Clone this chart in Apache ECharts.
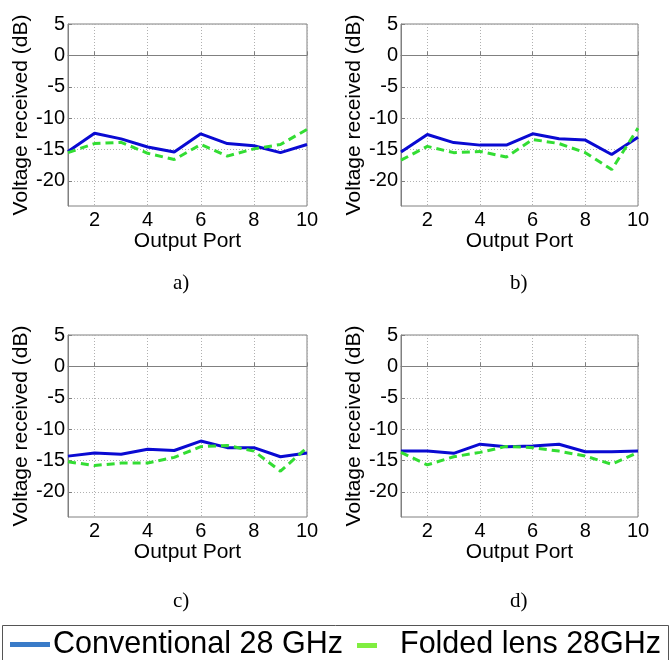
<!DOCTYPE html>
<html>
<head>
<meta charset="utf-8">
<script src="https://cdn.jsdelivr.net/npm/echarts@6/dist/echarts.min.js"></script>
<style>
html,body{margin:0;padding:0;background:#fff;}
#chart{width:670px;height:660px;}
</style>
</head>
<body>
<div id="chart"></div>
<script>
// ---- data ----
const ports = [1, 2, 3, 4, 5, 6, 7, 8, 9, 10];
const xTicks = [2, 4, 6, 8, 10];
const yTicks = [-20, -15, -10, -5, 0, 5];
const seriesNames = ['Conventional 28 GHz', 'Folded lens 28GHz'];
const captions = ['a)', 'b)', 'c)', 'd)'];

const convA = [-15.3, -12.4, -13.3, -14.6, -15.4, -12.5, -14.05, -14.4, -15.5, -14.2];
const foldA = [-15.5, -14.05, -13.85, -15.6, -16.6, -14.2, -16.05, -14.9, -14.2, -11.8];
const convB = [-15.4, -12.6, -13.9, -14.3, -14.3, -12.5, -13.3, -13.5, -15.8, -13.05];
const foldB = [-16.7, -14.5, -15.5, -15.3, -16.2, -13.4, -14.05, -15.5, -18.2, -11.6];
const convC = [-14.3, -13.8, -14.0, -13.2, -13.4, -11.9, -12.95, -12.95, -14.4, -13.8];
const foldC = [-15.2, -15.8, -15.4, -15.4, -14.5, -12.8, -12.6, -13.5, -16.7, -12.95];
const convD = [-13.5, -13.5, -13.85, -12.4, -12.8, -12.7, -12.4, -13.6, -13.6, -13.5];
const foldD = [-13.7, -15.7, -14.4, -13.7, -12.75, -12.95, -13.5, -14.3, -15.6, -13.7];

const convSets = [convA, convB, convC, convD];
const foldSets = [foldA, foldB, foldC, foldD];

// ---- layout ----
const gridBoxes = [
  {left: 68, top: 24, width: 239, height: 182},
  {left: 401, top: 24, width: 237, height: 182},
  {left: 68, top: 335, width: 239, height: 182},
  {left: 401, top: 335, width: 237, height: 182}
];
const captionPos = [
  {left: 168, top: 268},
  {left: 505, top: 268},
  {left: 168, top: 586},
  {left: 505, top: 586}
];

const sans = 'Liberation Sans, Arial, sans-serif';
const grids = [], xAxes = [], yAxes = [], series = [], titles = [];

gridBoxes.forEach((g, i) => {
  grids.push(Object.assign({show: true, borderColor: '#808080', borderWidth: 1, backgroundColor: '#fff'}, g));
  xAxes.push({
    type: 'value', gridIndex: i, min: 1, max: 10,
    name: 'Output Port', nameLocation: 'middle', nameGap: 25,
    nameTextStyle: {fontFamily: sans, fontSize: 21, color: '#000'},
    axisLine: {show: true, lineStyle: {color: '#808080'}},
    axisTick: {show: true, inside: true, length: 4, lineStyle: {color: '#808080'}, customValues: xTicks},
    axisLabel: {fontFamily: sans, fontSize: 20, color: '#000', margin: 4, customValues: xTicks},
    splitLine: {show: true, lineStyle: {type: [1, 2], color: '#b0b0b0', width: 1}}
  });
  yAxes.push({
    type: 'value', gridIndex: i, min: -24, max: 5,
    name: 'Voltage received (dB)', nameLocation: 'middle', nameGap: 36, nameRotate: 90,
    nameTextStyle: {fontFamily: sans, fontSize: 21, color: '#000'},
    axisLine: {show: true, lineStyle: {color: '#808080'}},
    axisTick: {show: true, inside: true, length: 4, lineStyle: {color: '#808080'}, customValues: yTicks},
    axisLabel: {fontFamily: sans, fontSize: 20, color: '#000', margin: 3, customValues: yTicks},
    splitLine: {show: true, lineStyle: {type: [1, 2], color: '#b0b0b0', width: 1}}
  });
  series.push({
    name: seriesNames[0], type: 'line', xAxisIndex: i, yAxisIndex: i,
    data: ports.map((p, k) => [p, convSets[i][k]]),
    showSymbol: false, symbol: 'none',
    lineStyle: {color: '#0a0ad2', width: 3, type: 'solid'},
    itemStyle: {color: '#0a0ad2'}, z: 3
  });
  series.push({
    name: seriesNames[1], type: 'line', xAxisIndex: i, yAxisIndex: i,
    data: ports.map((p, k) => [p, foldSets[i][k]]),
    showSymbol: false, symbol: 'none',
    lineStyle: {color: '#33dd33', width: 3, type: [8, 5]},
    itemStyle: {color: '#33dd33'}, z: 4
  });
  titles.push({
    text: captions[i], left: captionPos[i].left, top: captionPos[i].top,
    textStyle: {fontFamily: 'Liberation Serif, Times New Roman, serif', fontSize: 21, fontWeight: 'normal', color: '#000'}
  });
});

// legend box drawn as graphic elements (keeps text as real text)
const legendGraphic = [
  {type: 'rect', left: 2, top: 625, shape: {width: 666, height: 40},
    style: {fill: '#fff', stroke: '#555', lineWidth: 1}, z: 10},
  {type: 'rect', left: 10, top: 642, shape: {width: 40, height: 5},
    style: {fill: '#3a7bc8'}, z: 11},
  {type: 'text', left: 53, top: 629,
    style: {text: seriesNames[0], font: '30.5px Liberation Sans, Arial, sans-serif', fill: '#000'}, z: 11},
  {type: 'rect', left: 357, top: 643, shape: {width: 20, height: 5},
    style: {fill: '#80ee40'}, z: 11},
  {type: 'text', left: 400, top: 629,
    style: {text: seriesNames[1], font: '30.5px Liberation Sans, Arial, sans-serif', fill: '#000'}, z: 11}
];

const chart = echarts.init(document.getElementById('chart'), null, {renderer: 'canvas'});
chart.setOption({
  backgroundColor: '#fff',
  animation: false,
  title: titles,
  grid: grids,
  xAxis: xAxes,
  yAxis: yAxes,
  series: series,
  graphic: legendGraphic
});
</script>
</body>
</html>
